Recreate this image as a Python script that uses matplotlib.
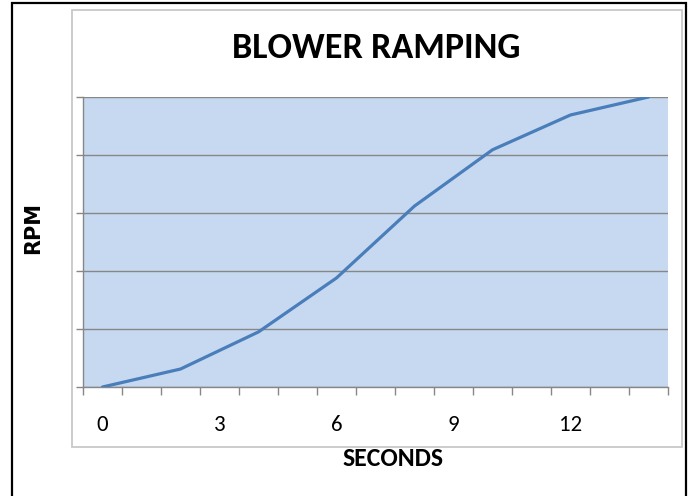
import matplotlib
matplotlib.use("Agg")
import matplotlib.pyplot as plt
from matplotlib import font_manager
from matplotlib.patches import Rectangle

# Data
seconds = [0, 2, 4, 6, 8, 10, 12, 14]
rpm = [0.0, 0.31, 0.95, 1.88, 3.12, 4.09, 4.69, 5.0]
xtick_vals = [0, 3, 6, 9, 12]
xtick_labels = ["0", "3", "6", "9", "12"]
title = "BLOWER RAMPING"
xlabel = "SECONDS"
ylabel = "RPM"

names = {f.name for f in font_manager.fontManager.ttflist}
main_font = "Carlito" if "Carlito" in names else "DejaVu Sans"
rpm_font = "DejaVu Sans"

W, H = 693, 496
fig = plt.figure(figsize=(W / 100, H / 100), dpi=100)
fig.patch.set_facecolor("white")

# Frames
fig.patches.append(Rectangle((12 / W, -0.05), (686 - 12) / W, 1.05 - 3 / H,
                             transform=fig.transFigure, fill=False,
                             edgecolor="black", linewidth=1.6, zorder=0))
fig.patches.append(Rectangle((72 / W, 1 - 447 / H), (682 - 72) / W, (447 - 10) / H,
                             transform=fig.transFigure, fill=False,
                             edgecolor="#c8c8c8", linewidth=1.3, zorder=0))

ax = fig.add_axes([83 / W, 1 - 387 / H, (668 - 83) / W, (387 - 97) / H])
ax.set_facecolor("#c6d9f0")

ax.plot(seconds, rpm, color="#4a7ebb", linewidth=2.3, solid_capstyle="round", zorder=3)

ax.set_xlim(-0.5, 14.5)
ax.set_ylim(0, 5)

# y axis: gridlines and ticks without labels
ax.set_yticks(range(0, 6))
ax.set_yticklabels([])
ax.yaxis.grid(True, color="#878787", linewidth=1.0)
ax.set_axisbelow(True)
ax.tick_params(axis="y", length=5, width=1, color="#878787", direction="out")

# x axis: major ticks at category boundaries, labels via minor ticks
ax.set_xticks([i - 0.5 for i in range(16)])
ax.set_xticklabels([])
ax.tick_params(axis="x", which="major", length=6, width=1, color="#878787", direction="out")
ax.set_xticks(xtick_vals, minor=True)
ax.set_xticklabels(xtick_labels, minor=True, fontsize=16.5, fontfamily=main_font)
ax.tick_params(axis="x", which="minor", length=0, pad=20)

for side in ["top", "right"]:
    ax.spines[side].set_visible(False)
for side in ["left", "bottom"]:
    ax.spines[side].set_color("#878787")
    ax.spines[side].set_linewidth(1.0)

fig.text(376.5 / W, 1 - 47.5 / H, title, ha="center", va="center",
         fontsize=26, fontweight="bold", fontfamily=main_font)
fig.text(393 / W, 1 - 458 / H, xlabel, ha="center", va="center",
         fontsize=18.5, fontweight="bold", fontfamily=main_font)
fig.text(33 / W, 1 - 227.5 / H, ylabel, ha="center", va="center", rotation=90,
         fontsize=15, fontweight="bold", fontfamily=rpm_font)

fig.savefig("out.png", dpi=100)
